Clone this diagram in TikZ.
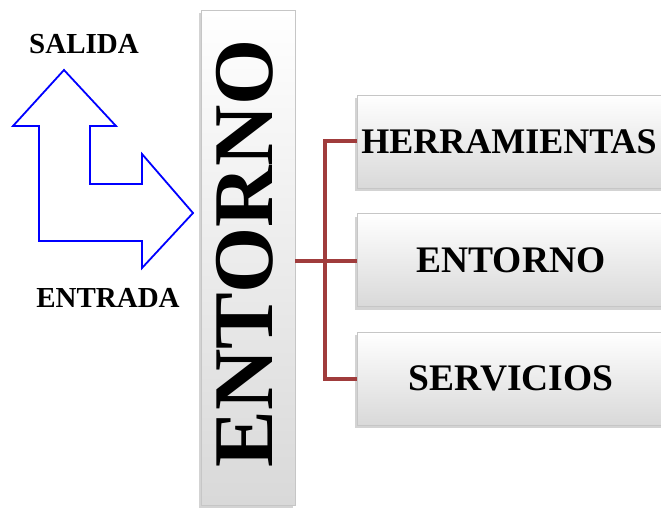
\documentclass[tikz,border=0pt]{standalone}
\usepackage{fontspec}
\setmainfont{Liberation Serif}
\usetikzlibrary{shadows}
\definecolor{linkred}{HTML}{A03C3C}
\tikzset{
  bevelbox/.style={rectangle, draw=gray!45, line width=0.6pt, top color=white, bottom color=gray!30,
    drop shadow={shadow xshift=-2pt, shadow yshift=-3pt, opacity=0.35, fill=gray},
    inner sep=0pt, font=\fontsize{37.5}{40}\selectfont\bfseries},
  lbl/.style={font=\fontsize{29}{32}\selectfont\bfseries, inner sep=0pt},
  link/.style={draw=linkred, line width=4pt},
  flow/.style={draw=blue, line width=1.8pt, line join=miter}
}
\begin{document}
\begin{tikzpicture}[x=1pt, y=-1pt]
\useasboundingbox (0,0) rectangle (661,508);
% vertical bar
\node[bevelbox, minimum width=94pt, minimum height=495pt] (bar) at (248,257.5) {};
\node[rotate=90, inner sep=0pt, font=\fontsize{85}{90}\selectfont\bfseries] (bart) at (245,253) {ENTORNO};
% boxes
\node[bevelbox, minimum width=308pt, minimum height=93pt] (b1) at (511,141.5) {};
\node[inner sep=0pt, font=\fontsize{36}{40}\selectfont\bfseries] (b1t) at (509,142) {HERRAMIENTAS};
\node[bevelbox, minimum width=308pt, minimum height=93pt] (b2) at (511,260) {ENTORNO};
\node[bevelbox, minimum width=308pt, minimum height=93pt] (b3) at (511,378.5) {SERVICIOS};
% connectors
\coordinate (j) at (325,261);
\draw[link] (bar.east |- j) -- (b2.west |- j);
\draw[link] (b1.west) -| (j);
\draw[link] (b3.west) -| (j);
% labels
\node[lbl] (sal) at (84,44) {SALIDA};
\node[lbl] (ent) at (108,298) {ENTRADA};
% in/out arrow
\draw[flow] (64,70) -- (116,126) -- (90,126) -- (90,184) -- (142,184) -- (142,154)
  -- (193,213) -- (142,268) -- (142,241) -- (39,241) -- (39,126) -- (13,126) -- cycle;
\end{tikzpicture}
\end{document}
